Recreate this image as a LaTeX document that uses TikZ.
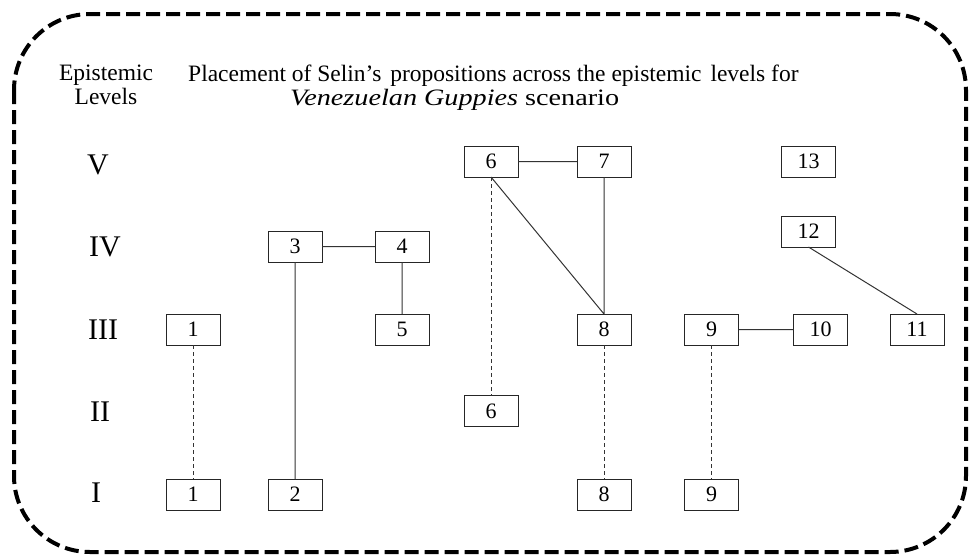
\documentclass[tikz,border=0pt]{standalone}
\usepackage{graphicx}
\usepackage{fontspec}
\setmainfont{Liberation Serif}
\usetikzlibrary{positioning}

\tikzset{
  prop/.style={draw=black!85, line width=1pt, minimum width=54pt, minimum height=31pt,
    inner sep=0pt, outer sep=0pt, font=\rmfamily\fontsize{22}{22}\selectfont},
  level/.style={anchor=west, inner sep=0pt, font=\rmfamily\fontsize{30}{30}\selectfont},
  head/.style={inner sep=0pt, font=\rmfamily\fontsize{23.5}{24}\selectfont},
  link/.style={draw=black!80, line width=1pt},
  weak/.style={link, dash pattern=on 4pt off 3pt},
  frame/.style={line width=4pt, dash pattern=on 14pt off 6pt, rounded corners=76pt}
}

\begin{document}
\begin{tikzpicture}[x=1pt, y=-1pt]
    \useasboundingbox (0,0) rectangle (970,555);
    \draw[frame] (14,14) rectangle (966,552);

    % heading
    \node[head, align=center, anchor=north] (levhead) at (106,65) {Epistemic\\Levels};
    \node[head, align=left, anchor=north west] (title) at (188,65)
      {Placement of Selin’s\hspace{3pt} propositions across the epistemic\hspace{3pt} levels for\\
       \hspace*{102pt}\scalebox{1.2}[1]{\textit{Venezuelan Guppies} scenario}};

    % epistemic levels
    \node[level] (lv5) at (87,165) {V};
    \node[level] (lv4) at (89,247) {IV};
    \node[level] (lv3) at (88,330) {III};
    \node[level] (lv2) at (90,411.5) {II};
    \node[level] (lv1) at (91,493) {I};

    % level V
    \node[prop] (v6) at (491,161.5) {6};
    \node[prop] (v7) [right=59pt of v6] {7};
    \node[prop] (v13) at (808.5,161.5) {13};
    % level IV
    \node[prop] (iv3) at (295,246.5) {3};
    \node[prop] (iv4) [right=53pt of iv3] {4};
    \node[prop] (iv12) at (808.5,231.5) {12};
    % level III
    \node[prop] (iii1) at (193,329.5) {1};
    \node[prop] (iii5) [below=52pt of iv4] {5};
    \node[prop] (iii8) [below=137pt of v7] {8};
    \node[prop] (iii9) at (711.5,329.5) {9};
    \node[prop] (iii10) [right=55pt of iii9] {10};
    \node[prop] (iii11) at (917,329.5) {11};
    % level II
    \node[prop] (ii6) at (491,411) {6};
    % level I
    \node[prop] (i1) at (193,494.5) {1};
    \node[prop] (i2) at (295,494.5) {2};
    \node[prop] (i8) [below=134pt of iii8] {8};
    \node[prop] (i9) [below=134pt of iii9] {9};

    \path[link]
    (v6) -- (v7)
    (v7) -- (iii8)
    (v6.south) -- (iii8.north)
    (iv3) -- (iv4)
    (iv4) -- (iii5)
    (iv3) -- (i2)
    (iii9) -- (iii10)
    (iv12.south) -- (iii11.north);

    \path[weak]
    (iii1) -- (i1)
    (v6) -- (ii6)
    (iii8) -- (i8)
    (iii9) -- (i9);
\end{tikzpicture}
\end{document}
